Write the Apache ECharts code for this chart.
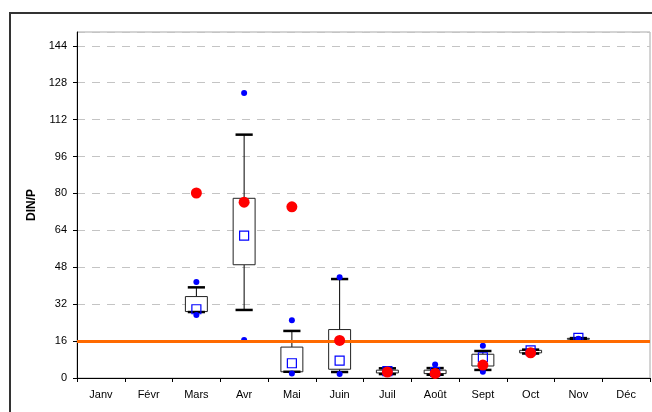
<!DOCTYPE html>
<html>
<head>
<meta charset="utf-8">
<script src="https://cdn.jsdelivr.net/npm/echarts@6/dist/echarts.min.js"></script>
<style>
  html, body { margin: 0; padding: 0; background: #fff; }
  #chart { width: 652px; height: 412px; }
</style>
</head>
<body>
<div id="chart"></div>
<script>
// Monthly DIN/P ratios: box (quartile range), whiskers, extreme values, mean and reference point
const months = ['Janv', 'Févr', 'Mars', 'Avr', 'Mai', 'Juin', 'Juil', 'Août', 'Sept', 'Oct', 'Nov', 'Déc'];
const whiskerLow  = [null, null, 28.6, 29.5, 2.7, 2.6, 1.7, 1.4, 3.5, 10.6, 16.7, null];
const boxLow      = [null, null, 28.8, 49.1, 2.7, 3.8, 2.2, 1.9, 5.2, 10.9, 16.8, null];
const boxHigh     = [null, null, 35.3, 77.9, 13.4, 21.0, 3.4, 3.4, 10.3, 12.0, 17.2, null];
const whiskerHigh = [null, null, 39.3, 105.5, 20.4, 42.9, 4.2, 4.3, 11.7, 12.3, 17.3, null];
const pointMin    = [null, null, 27.3, 16.5, 2.0, 1.7, 1.9, 1.6, 2.7, 11.0, 16.9, null];
const pointMax    = [null, null, 41.6, 123.6, 25.0, 43.7, 3.8, 5.9, 14.0, 11.6, 17.0, null];
const meanValue   = [null, null, 29.8, 61.7, 6.4, 7.5, 3.0, 2.6, 9.0, 12.0, 17.4, null];
const redPoint    = [null, null, 80.2, 76.2, 74.2, 16.3, 2.6, 2.0, 5.6, 10.9, null, null];
const threshold = 16;
const yTicks = [0, 16, 32, 48, 64, 80, 96, 112, 128, 144];

const boxData = [];
months.forEach((m, i) => {
  if (boxLow[i] != null) boxData.push([i, whiskerLow[i], boxLow[i], boxHigh[i], whiskerHigh[i]]);
});
const pairs = arr => arr.map((v, i) => v == null ? null : [i, v]).filter(d => d);

function renderBox(params, api) {
  const i = api.value(0);
  const pWL = api.coord([i, api.value(1)]);
  const pBL = api.coord([i, api.value(2)]);
  const pBH = api.coord([i, api.value(3)]);
  const pWH = api.coord([i, api.value(4)]);
  const band = api.size([1, 0])[0];
  const bw = band * 0.46;
  const cw = band * 0.36;
  const x = pBL[0];
  const stroke = { stroke: '#000', lineWidth: 1 };
  const cap = { stroke: '#000', lineWidth: 2.5 };
  return {
    type: 'group',
    children: [
      { type: 'line', shape: { x1: x, y1: pWH[1], x2: x, y2: pBH[1] }, style: stroke },
      { type: 'line', shape: { x1: x, y1: pBL[1], x2: x, y2: pWL[1] }, style: stroke },
      { type: 'rect', shape: { x: x - bw / 2, y: pBH[1], width: bw, height: pBL[1] - pBH[1] },
        style: { fill: '#fff', stroke: '#222', lineWidth: 1 } },
      { type: 'line', shape: { x1: x - cw / 2, y1: pWH[1], x2: x + cw / 2, y2: pWH[1] }, style: cap },
      { type: 'line', shape: { x1: x - cw / 2, y1: pWL[1], x2: x + cw / 2, y2: pWL[1] }, style: cap }
    ]
  };
}

const chart = echarts.init(document.getElementById('chart'), null, { renderer: 'canvas' });
const font = 'Liberation Sans, Arial, sans-serif';
chart.setOption({
  animation: false,
  backgroundColor: '#fff',
  textStyle: { fontFamily: font },
  graphic: [{
    type: 'rect', z: 100, silent: true,
    shape: { x: 10, y: 13, width: 700, height: 450 },
    style: { fill: 'none', stroke: '#333', lineWidth: 2 }
  }],
  grid: { left: 77, top: 32, right: 2, bottom: 34, show: true, borderColor: '#a8a8a8', borderWidth: 1 },
  xAxis: {
    type: 'category',
    data: months,
    boundaryGap: true,
    axisLine: { lineStyle: { color: '#000', width: 1 } },
    axisTick: { show: true, length: 4, lineStyle: { color: '#000' } },
    axisLabel: { color: '#000', fontSize: 11, fontFamily: font, margin: 11 },
    splitLine: { show: false }
  },
  yAxis: {
    type: 'value',
    min: 0, max: 150, interval: 16,
    name: 'DIN/P',
    nameLocation: 'middle',
    nameGap: 38,
    nameTextStyle: { color: '#000', fontWeight: 'bold', fontSize: 12, fontFamily: font },
    axisLine: { show: true, lineStyle: { color: '#000', width: 1 } },
    axisTick: { show: true, length: 4, lineStyle: { color: '#000' } },
    axisLabel: {
      color: '#000', fontSize: 11, fontFamily: font, margin: 10, showMaxLabel: false,
      formatter: v => yTicks.indexOf(v) >= 0 ? String(v) : ''
    },
    splitLine: { show: true, lineStyle: { color: '#c4c4c4', type: [8, 7], width: 1 } }
  },
  series: [
    {
      type: 'custom',
      renderItem: renderBox,
      data: boxData,
      encode: { x: 0, y: [1, 2, 3, 4] },
      z: 2
    },
    {
      type: 'scatter',
      data: pairs(meanValue),
      symbol: 'rect',
      symbolSize: 9,
      itemStyle: { color: 'rgba(255,255,255,0)', borderColor: '#0000ff', borderWidth: 1.2, opacity: 1 },
      z: 3
    },
    {
      type: 'scatter',
      data: pairs(pointMin).concat(pairs(pointMax)),
      symbolSize: 6,
      itemStyle: { color: '#0000ff', opacity: 1 },
      z: 4
    },
    {
      type: 'scatter',
      data: pairs(redPoint),
      symbolSize: 11,
      itemStyle: { color: '#ff0000', opacity: 1 },
      z: 5,
      markLine: {
        silent: true,
        symbol: 'none',
        label: { show: false },
        lineStyle: { color: '#ff6a00', width: 3, type: 'solid' },
        data: [{ yAxis: threshold }]
      }
    }
  ]
});
</script>
</body>
</html>
